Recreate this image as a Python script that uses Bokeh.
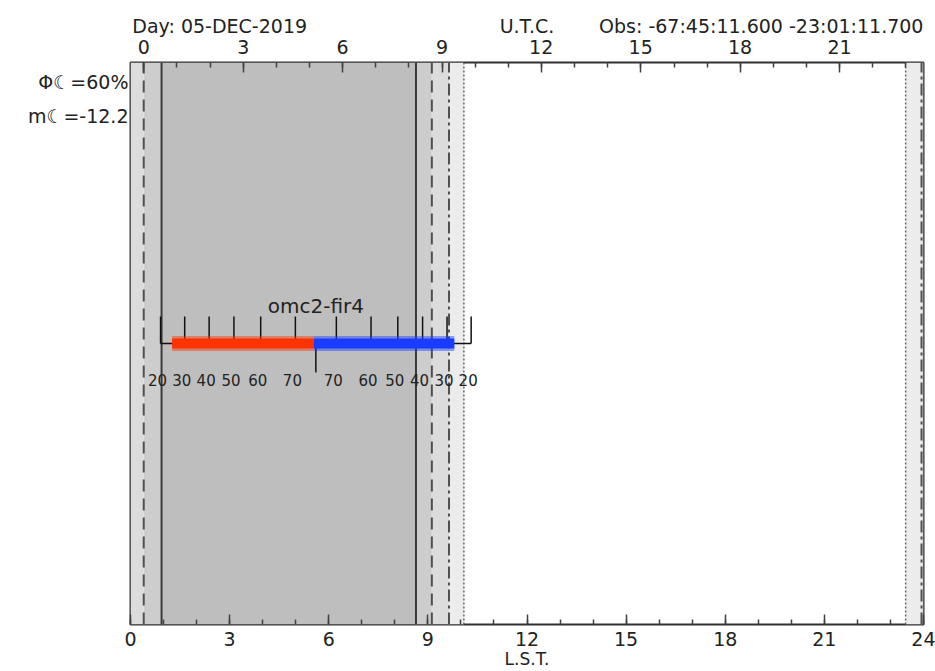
from bokeh.plotting import figure
from bokeh.models import Range1d, LinearAxis, FixedTicker, ColumnDataSource
from bokeh.core.properties import value
from bokeh.embed import file_html
from bokeh.resources import INLINE

# ---------------- data ----------------
lst_major = [0, 3, 6, 9, 12, 15, 18, 21, 24]
lst_minor = list(range(0, 25))
utc_labels = ["0", "3", "6", "9", "12", "15", "18", "21"]
utc_major_lst = [0.40, 3.41, 6.42, 9.43, 12.43, 15.44, 18.45, 21.46]
utc_minor_lst = [0.40, 1.40, 2.41, 3.41, 4.41, 5.41, 6.42, 7.42, 8.42, 9.43,
                 10.43, 11.43, 12.43, 13.44, 14.44, 15.44, 16.45, 17.45,
                 18.45, 19.45, 20.46, 21.46, 22.46, 23.47]

shade_left = [0.00, 0.40, 0.94, 8.64, 9.12, 9.64, 23.46, 23.94]
shade_right = [0.40, 0.94, 8.64, 9.12, 9.64, 10.09, 23.94, 24.00]
shade_color = ["#dcdcdc", "#cdcdcd", "#bebebe", "#cdcdcd",
               "#dcdcdc", "#ececec", "#ececec", "#dcdcdc"]

astro_lines = [0.94, 8.64]      # solid
nautical_lines = [0.40, 9.12]   # dashed
civil_lines = [23.94, 9.64]     # dash-dot
sun_lines = [23.46, 10.09]      # dotted

day_text = "Day: 05-DEC-2019"
utc_text = "U.T.C."
obs_text = "Obs: -67:45:11.600 -23:01:11.700"
lst_text = "L.S.T."
moon_texts = ["\u03a6\u263e=60%", "m\u263e=-12.2"]

obj_name = "omc2-fir4"
rise_elev = [20, 30, 40, 50, 60, 70]
rise_lst = [0.91, 1.64, 2.38, 3.13, 3.94, 4.99]
transit_lst = 5.61
set_elev = [70, 60, 50, 40, 30, 20]
set_lst = [6.23, 7.28, 8.09, 8.84, 9.58, 10.31]
rising_span = [1.26, 5.55]
setting_span = [5.55, 9.80]

# ---------------- figure ----------------
FONT = "DejaVu Sans"
TXT = "#222222"
PX_PER_Y = 281.0          # frame height 562 px over y range 0..2

p = figure(width=935, height=671, output_backend="svg", toolbar_location=None,
           x_range=Range1d(0, 24), y_range=Range1d(0, 2),
           y_axis_location=None, x_axis_location="below",
           min_border_left=130, min_border_right=12,
           min_border_top=62, min_border_bottom=47,
           background_fill_color="white", border_fill_color="white")
p.grid.visible = False
p.outline_line_color = "#303030"
p.outline_line_width = 2

def style_axis(ax, standoff):
    ax.axis_line_color = None
    ax.major_tick_in = 10
    ax.major_tick_out = 0
    ax.minor_tick_in = 5
    ax.minor_tick_out = 0
    ax.major_tick_line_color = "#404040"
    ax.minor_tick_line_color = "#404040"
    ax.major_tick_line_width = 1.5
    ax.minor_tick_line_width = 1.5
    ax.major_label_text_font = FONT
    ax.major_label_text_font_size = "19px"
    ax.major_label_text_color = TXT
    ax.major_label_standoff = standoff

def text_axis(ax, standoff):
    ax.axis_line_color = None
    ax.major_tick_line_color = None
    ax.minor_tick_line_color = None
    ax.major_tick_in = 0
    ax.major_tick_out = 0
    ax.minor_tick_in = 0
    ax.minor_tick_out = 0
    ax.major_label_text_font = FONT
    ax.major_label_text_font_size = "19px"
    ax.major_label_text_color = TXT
    ax.major_label_standoff = standoff

# bottom LST axis
bax = p.xaxis[0]
bax.ticker = FixedTicker(ticks=lst_major, minor_ticks=lst_minor)
style_axis(bax, 7)
bax.axis_label = lst_text
bax.axis_label_text_font = FONT
bax.axis_label_text_font_style = "normal"
bax.axis_label_text_font_size = "17px"
bax.axis_label_text_color = TXT
bax.axis_label_standoff = 0

# top UTC axis
tax = LinearAxis(ticker=FixedTicker(ticks=utc_major_lst, minor_ticks=utc_minor_lst),
                 major_label_overrides={v: t for v, t in zip(utc_major_lst, utc_labels)})
style_axis(tax, 9)
p.add_layout(tax, "above")

# header line (placed above the UTC axis): text centres in LST units
hdr_pos = [2.70, 12.0, 19.09]
hax = LinearAxis(ticker=FixedTicker(ticks=hdr_pos, minor_ticks=[]),
                 major_label_overrides={hdr_pos[0]: day_text,
                                        hdr_pos[1]: utc_text,
                                        hdr_pos[2]: obs_text})
text_axis(hax, 0)
p.add_layout(hax, "above")

# moon info on the left
moon_y = [2 - 19 / PX_PER_Y, 2 - 53 / PX_PER_Y]
lax = LinearAxis(ticker=FixedTicker(ticks=moon_y, minor_ticks=[]),
                 major_label_overrides={moon_y[0]: moon_texts[0],
                                        moon_y[1]: moon_texts[1]})
text_axis(lax, 2)
p.add_layout(lax, "left")

# twilight shading
p.quad(left=shade_left, right=shade_right, bottom=0, top=2,
       fill_color=shade_color, line_color=None)

def vlines(xs, dash, color, width):
    src = ColumnDataSource(dict(x=xs, y0=[0] * len(xs), y1=[2] * len(xs)))
    p.segment(x0="x", x1="x", y0="y0", y1="y1", source=src,
              line_dash=dash, line_color=color, line_width=width)

vlines(astro_lines, "solid", "#3a3a3a", 2)
vlines(nautical_lines, "12 7", "#505050", 2)
vlines(civil_lines, "12 4 3 4", "#505050", 2)
vlines(sun_lines, "2 2", "#666666", 1.5)

# elevation bracket
TICK_UP = 27 / PX_PER_Y
TICK_DN = 29 / PX_PER_Y
ylev = 1.0
all_lst = rise_lst + set_lst
all_elev = rise_elev + set_elev
p.segment(x0=[rise_lst[0]], x1=[set_lst[-1]], y0=[ylev], y1=[ylev],
          line_color="#111111", line_width=1.5)
p.segment(x0=all_lst, x1=all_lst, y0=[ylev] * len(all_lst),
          y1=[ylev + TICK_UP] * len(all_lst), line_color="#111111", line_width=1.5)
p.segment(x0=[transit_lst], x1=[transit_lst], y0=[ylev], y1=[ylev - TICK_DN],
          line_color="#111111", line_width=1.5)

# observable band (soft halo + core)
for span, col in ((rising_span, "#ff3300"), (setting_span, "#1a3cff")):
    p.segment(x0=[span[0]], x1=[span[1]], y0=[ylev], y1=[ylev],
              line_color=col, line_width=15, line_alpha=0.45)
    p.segment(x0=[span[0]], x1=[span[1]], y0=[ylev], y1=[ylev],
              line_color=col, line_width=10)

# elevation labels
lab_src = ColumnDataSource(dict(x=all_lst, y=[ylev - 36 / PX_PER_Y] * len(all_lst),
                                t=[str(e) for e in all_elev]))
p.text(x="x", y="y", text="t", source=lab_src, x_offset=-3,
       text_font=value(FONT), text_font_size="15px", text_color=TXT,
       text_align="center", text_baseline="middle")

p.text(x=[transit_lst], y=[ylev + 38 / PX_PER_Y], text=[obj_name],
       text_font=value(FONT), text_font_size="20px", text_color=TXT,
       text_align="center", text_baseline="middle")

open("out.html", "w").write(file_html(p, INLINE))
